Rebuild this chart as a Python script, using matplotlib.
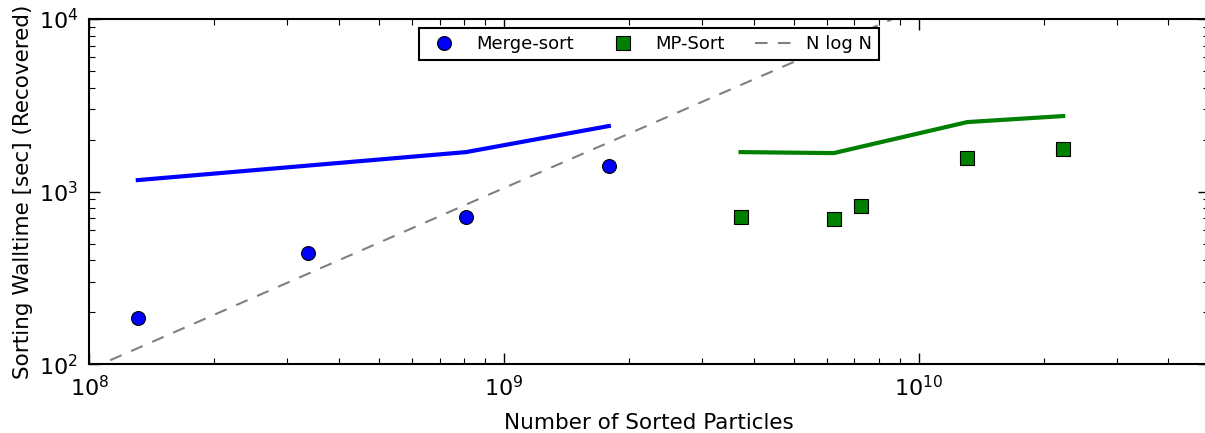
import numpy as np
import matplotlib
matplotlib.use("Agg")
import matplotlib.pyplot as plt

# merge-sort (blue)
merge_n = [1.31e8, 3.37e8, 8.1e8, 1.79e9]
merge_t = [185, 440, 711, 1406]
merge_line_n = [1.31e8, 8.1e8, 1.79e9]
merge_line_t = [1166, 1694, 2399]

# MP-Sort (green)
mp_n = [3.72e9, 6.24e9, 7.24e9, 1.31e10, 2.23e10]
mp_t = [711, 693, 824, 1563, 1763]
mp_line_n = [3.72e9, 6.24e9, 1.31e10, 2.23e10]
mp_line_t = [1694, 1672, 2529, 2741]

# reference N log N curve
nlogn_n = np.array([1e8, 1e9, 1e10, 5e10])
nlogn_c = 5.06e-8
nlogn_t = nlogn_c * nlogn_n * np.log(nlogn_n)

fig = plt.figure(figsize=(12.05, 4.33), dpi=100)
ax = fig.add_axes([0.074, 0.159, 0.929, 0.797])

ax.plot(merge_line_n, merge_line_t, color='blue', lw=3)
ax.plot(mp_line_n, mp_line_t, color='green', lw=3)
ax.plot(merge_n, merge_t, 'o', color='blue', mec='black', mew=0.8, ms=10, label='Merge-sort')
ax.plot(mp_n, mp_t, 's', color='green', mec='black', mew=0.8, ms=9.5, label='MP-Sort')
ax.plot(nlogn_n, nlogn_t, '--', color='gray', lw=1.5, dashes=(6, 5), label='N log N')

ax.set_xscale('log')
ax.set_yscale('log')
ax.set_xlim(1e8, 5e10)
ax.set_ylim(1e2, 1e4)

ax.tick_params(which='both', direction='in', top=True, right=True, labelsize=16, pad=8)
ax.tick_params(which='major', length=8, width=1)
ax.tick_params(which='minor', length=4, width=0.8)
for s in ax.spines.values():
    s.set_linewidth(1.5)

ax.set_xlabel('Number of Sorted Particles', fontsize=15.5, labelpad=9)
ax.set_ylabel('Sorting Walltime [sec] (Recovered)', fontsize=15.5)

leg = ax.legend(loc='upper center', ncol=3, fontsize=13, numpoints=1,
                fancybox=False, edgecolor='black', framealpha=1, borderaxespad=0,
                bbox_to_anchor=(0.5, 0.974), columnspacing=1.7, handletextpad=0.8)
leg.get_frame().set_linewidth(1.5)

fig.savefig('out.png', dpi=100)
